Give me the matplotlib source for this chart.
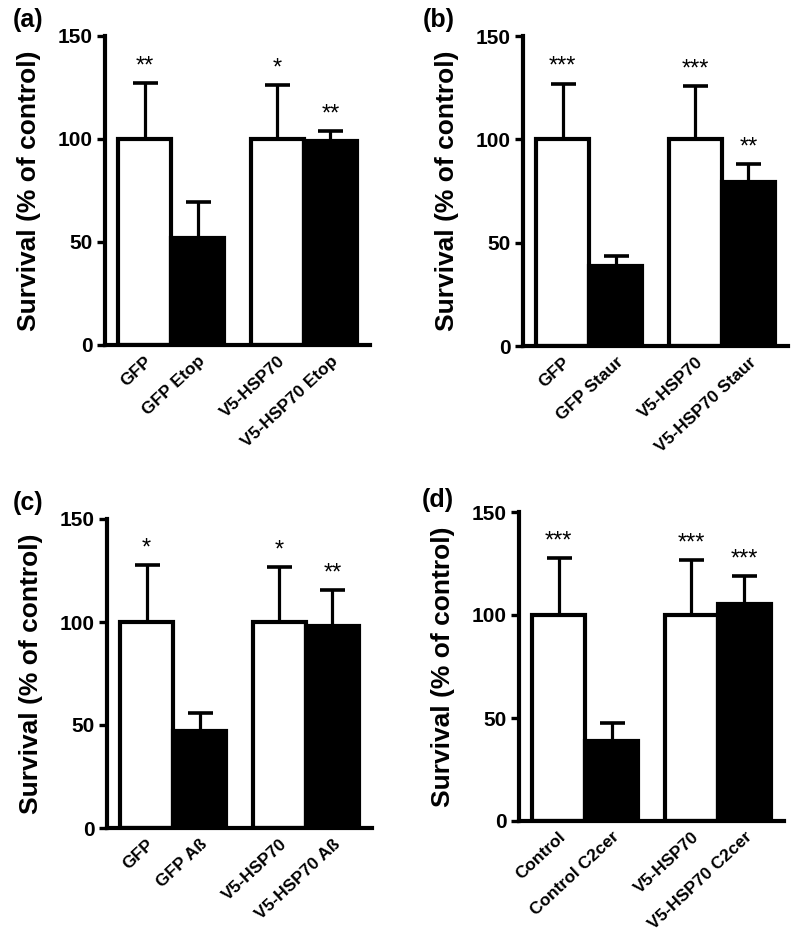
import numpy as np
import matplotlib.pyplot as plt
from matplotlib import transforms

plt.rcParams['font.family'] = ['Liberation Sans', 'DejaVu Sans']

# data
labels_a = ['GFP', 'GFP Etop', 'V5-HSP70', 'V5-HSP70 Etop']
means_a = [100, 52, 100, 99]
errs_a = [27, 17.5, 26, 5]
stars_a = ['**', '', '*', '**']

labels_b = ['GFP', 'GFP Staur', 'V5-HSP70', 'V5-HSP70 Staur']
means_b = [100, 38.7, 100, 79.5]
errs_b = [27, 5, 26, 8.5]
stars_b = ['***', '', '***', '**']

labels_c = ['GFP', 'GFP A\u00df', 'V5-HSP70', 'V5-HSP70 A\u00df']
means_c = [100, 47, 100, 98]
errs_c = [27.5, 9, 26.5, 17.5]
stars_c = ['*', '', '*', '**']

labels_d = ['Control', 'Control C2cer', 'V5-HSP70', 'V5-HSP70 C2cer']
means_d = [100, 38.8, 100, 105.3]
errs_d = [27.5, 9, 26.5, 13.5]
stars_d = ['***', '', '***', '***']

colors = ['white', 'black', 'white', 'black']
xpos = np.array([0, 1, 2.5, 3.5])

W, H = 800, 941
fig = plt.figure(figsize=(8, 9.41), dpi=100)

# axes boxes in pixels: left, top(150), bottom(0); tag position
boxes = [(105, 36, 345), (523, 36, 346), (107, 519, 828), (519, 512, 821)]
tags = [(13, 20), (423, 20), (13, 503), (422, 500)]
panels = [(labels_a, means_a, errs_a, stars_a, '(a)'),
          (labels_b, means_b, errs_b, stars_b, '(b)'),
          (labels_c, means_c, errs_c, stars_c, '(c)'),
          (labels_d, means_d, errs_d, stars_d, '(d)')]

for (left, top, bottom), (tx, ty), (labels, means, errs, stars, tag) in zip(boxes, tags, panels):
    ax = fig.add_axes([left / W, 1 - bottom / H, 265 / W, (bottom - top) / H])
    ax.bar(xpos, means, width=1.0, color=colors, edgecolor='black',
           linewidth=3, zorder=2)
    ax.errorbar(xpos, means, yerr=[np.zeros(4), errs], fmt='none',
                ecolor='black', elinewidth=2.3, capsize=9, capthick=2.6,
                zorder=3)
    for x, m, e, s in zip(xpos, means, errs, stars):
        if s:
            ax.annotate(s, (x, m + e), xytext=(0, 4), textcoords='offset points',
                        ha='center', va='bottom', fontsize=17)
    ax.set_xlim(-0.745, 4.245)
    ax.set_ylim(0, 150)
    ax.set_yticks([0, 50, 100, 150])
    ax.set_xticks(xpos)
    ax.set_xticklabels(labels, rotation=43, ha='right', rotation_mode='anchor',
                       fontweight='bold', fontsize=12.5)
    off = transforms.ScaledTranslation(4 / 72, -5 / 72, fig.dpi_scale_trans)
    for lab in ax.get_xticklabels():
        lab.set_transform(lab.get_transform() + off)
    ax.tick_params(axis='x', length=0, pad=6)
    ax.tick_params(axis='y', length=6, width=2.4, labelsize=15, pad=3)
    for lab in ax.get_yticklabels():
        lab.set_fontweight('bold')
    for sp in ['top', 'right']:
        ax.spines[sp].set_visible(False)
    for sp in ['left', 'bottom']:
        ax.spines[sp].set_linewidth(3)
    ax.set_ylabel('Survival (% of control)', fontsize=19, fontweight='bold',
                  labelpad=12)
    fig.text(tx / W, 1 - ty / H, tag, fontsize=18, fontweight='bold',
             ha='left', va='center')

fig.savefig('out.png', dpi=100)
